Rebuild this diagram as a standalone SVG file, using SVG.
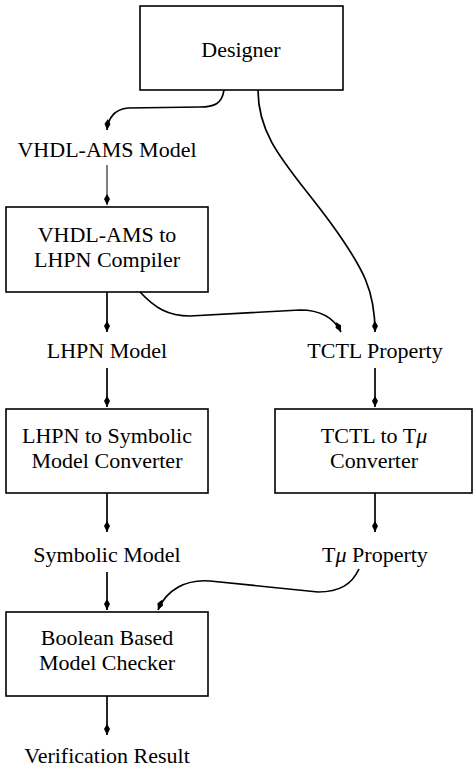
<svg xmlns="http://www.w3.org/2000/svg" width="474" height="767" viewBox="0 0 474 767">
<style>
.box{fill:#fff;stroke:#000;stroke-width:1.6}
text{font-family:'Liberation Serif','Times New Roman',Tinos,'Noto Serif','DejaVu Serif',FreeSerif,Times,serif;font-size:22px;fill:#000;text-anchor:middle}
.c{fill:none;stroke:#000;stroke-width:1.7}
.thin{stroke-width:1}
</style>
<defs>
<marker id="ah" markerUnits="userSpaceOnUse" markerWidth="14" markerHeight="10" refX="0" refY="0" viewBox="-12 -5 14 10" orient="auto">
<path d="M0,0 L-6,-3 L-11,0 L-6,3 Z" fill="#000"/>
</marker>
</defs>
<rect width="474" height="767" fill="#fff"/>
<g id="designer"><rect class="box" x="140" y="6" width="203" height="84"/><text x="241" y="57">Designer</text></g>
<g id="vhdl-model"><text x="107" y="157">VHDL-AMS Model</text></g>
<g id="compiler"><rect class="box" x="6" y="207" width="202" height="85"/><text x="107" y="242">VHDL-AMS to</text><text x="107" y="267">LHPN Compiler</text></g>
<g id="lhpn-model"><text x="107" y="358">LHPN Model</text></g>
<g id="tctl-property"><text x="375" y="358">TCTL Property</text></g>
<g id="lhpn-converter"><rect class="box" x="6" y="409" width="202" height="84"/><text x="107" y="443">LHPN to Symbolic</text><text x="107" y="468">Model Converter</text></g>
<g id="tctl-converter"><rect class="box" x="275" y="409" width="197" height="84"/><text x="374" y="443">TCTL to T<tspan font-style="italic">μ</tspan></text><text x="374" y="468">Converter</text></g>
<g id="symbolic-model"><text x="107" y="562">Symbolic Model</text></g>
<g id="tmu-property"><text x="375" y="562">T<tspan font-style="italic">μ</tspan> Property</text></g>
<g id="checker"><rect class="box" x="6" y="612" width="202" height="84"/><text x="107" y="645">Boolean Based</text><text x="107" y="670">Model Checker</text></g>
<g id="result"><text x="107" y="763">Verification Result</text></g>
<g id="connectors">
<path class="c" marker-end="url(#ah)" d="M224,90 C222,104 214,107 200,107 L128,108 C115,109 108,118 107,130"/>
<path class="c thin" marker-end="url(#ah)" d="M107,165 L107,205"/>
<path class="c" marker-end="url(#ah)" d="M258,90 C258,140 290,168 330,222 C365,270 375,292 375,332"/>
<path class="c" marker-end="url(#ah)" d="M107,292 L107,332"/>
<path class="c" marker-end="url(#ah)" d="M140,292 C155,308 168,316 190,316 L300,310 C320,310 334,318 341,332"/>
<path class="c" marker-end="url(#ah)" d="M375,368 L375,407"/>
<path class="c" marker-end="url(#ah)" d="M107,368 L107,407"/>
<path class="c" marker-end="url(#ah)" d="M107,493 L107,532"/>
<path class="c" marker-end="url(#ah)" d="M375,493 L375,532"/>
<path class="c" marker-end="url(#ah)" d="M107,572 L107,610"/>
<path class="c" marker-end="url(#ah)" d="M359,569 C352,584 340,592 318,592 L210,581 C186,579 166,590 158,610"/>
<path class="c" marker-end="url(#ah)" d="M107,696 L107,735"/>
</g>
</svg>
